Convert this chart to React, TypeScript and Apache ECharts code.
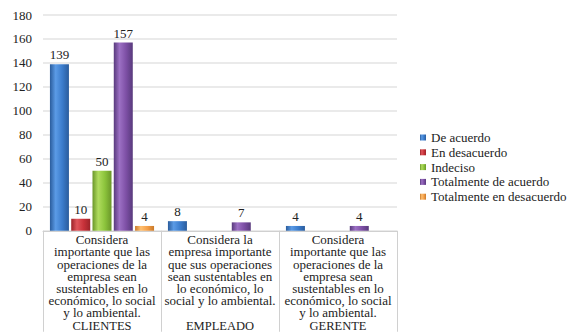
import React, { useEffect, useRef } from "react";
import * as echarts from "echarts";

const categoryLabels = [
  "Considera\nimportante que las\noperaciones de la\nempresa sean\nsustentables en lo\neconómico, lo social\ny lo ambiental.",
  "Considera la\nempresa importante\nque sus operaciones\nsean sustentables en\nlo económico, lo\nsocial y lo ambiental.",
  "Considera\nimportante que las\noperaciones de la\nempresa sean\nsustentables en lo\neconómico, lo social\ny lo ambiental.",
];
const groupLabels = ["CLIENTES", "EMPLEADO", "GERENTE"];

const seriesNames = [
  "De acuerdo",
  "En desacuerdo",
  "Indeciso",
  "Totalmente de acuerdo",
  "Totalmente en desacuerdo",
];
const deAcuerdo = [139, 8, 4];
const enDesacuerdo = [10, null, null];
const indeciso = [50, null, null];
const totalmenteDeAcuerdo = [157, 7, 4];
const totalmenteEnDesacuerdo = [4, null, null];
const seriesValues = [deAcuerdo, enDesacuerdo, indeciso, totalmenteDeAcuerdo, totalmenteEnDesacuerdo];

// [edge, highlight, body]
const palette = [
  ["#2a5c9c", "#5b9be6", "#3b7ccc"],
  ["#9c2329", "#e0565c", "#c8323a"],
  ["#6a9629", "#b0dc5e", "#8cc43c"],
  ["#583a7c", "#9c70c4", "#7d4fa5"],
  ["#c97a2a", "#ffc070", "#f5a04a"],
];

const FONT = "Liberation Serif";

function grad(c: string[]) {
  return new echarts.graphic.LinearGradient(0, 0, 1, 0, [
    { offset: 0, color: c[0] },
    { offset: 0.3, color: c[1] },
    { offset: 0.65, color: c[2] },
    { offset: 1, color: c[0] },
  ]);
}

export default function App() {
  const ref = useRef<HTMLDivElement>(null);
  useEffect(() => {
    if (!ref.current) return;
    const chart = echarts.init(ref.current, null, { renderer: "svg" });
    chart.setOption({
      animation: false,
      backgroundColor: "#ffffff",
      textStyle: { fontFamily: FONT },
      grid: { left: 43, right: 174, top: 15, bottom: 101, containLabel: false },
      legend: {
        orient: "vertical",
        left: 415,
        top: 126,
        itemWidth: 6,
        itemHeight: 6,
        itemGap: 1.8,
        icon: "rect",
        textStyle: { fontFamily: FONT, fontSize: 13, color: "#222" },
        data: seriesNames,
      },
      xAxis: [
        {
          type: "category",
          data: categoryLabels,
          position: "bottom",
          axisLine: { show: true, lineStyle: { color: "#d0d0d0", width: 1 } },
          axisTick: { show: true, length: 101, interval: 0, lineStyle: { color: "#d0d0d0" } },
          axisLabel: {
            interval: 0,
            margin: 3,
            verticalAlign: "top",
            lineHeight: 12.1,
            fontFamily: FONT,
            fontSize: 13,
            color: "#222",
          },
        },
        {
          type: "category",
          data: groupLabels,
          position: "bottom",
          offset: 88.5,
          axisLine: { show: false },
          axisTick: { show: false },
          axisLabel: {
            interval: 0,
            margin: 0,
            verticalAlign: "top",
            lineHeight: 12.5,
            fontFamily: FONT,
            fontSize: 12.5,
            color: "#222",
          },
        },
      ],
      yAxis: {
        type: "value",
        min: 0,
        max: 180,
        interval: 20,
        axisLine: { show: false },
        axisTick: { show: false },
        splitLine: { lineStyle: { color: "#e3e3e3", width: 1.5 } },
        axisLabel: { margin: 11, fontFamily: FONT, fontSize: 13, color: "#222" },
      },
      series: seriesNames.map((name, i) => ({
        name,
        type: "bar",
        xAxisIndex: 0,
        data: seriesValues[i],
        barWidth: 19,
        barGap: "12%",
        itemStyle: { color: grad(palette[i]) },
        label: {
          show: true,
          position: "top",
          distance: 3,
          fontFamily: FONT,
          fontSize: 13,
          color: "#222",
        },
      })),
    });
    return () => chart.dispose();
  }, []);
  return <div ref={ref} style={{ width: 571, height: 332, position: "absolute", left: 0, top: 0 }} />;
}
